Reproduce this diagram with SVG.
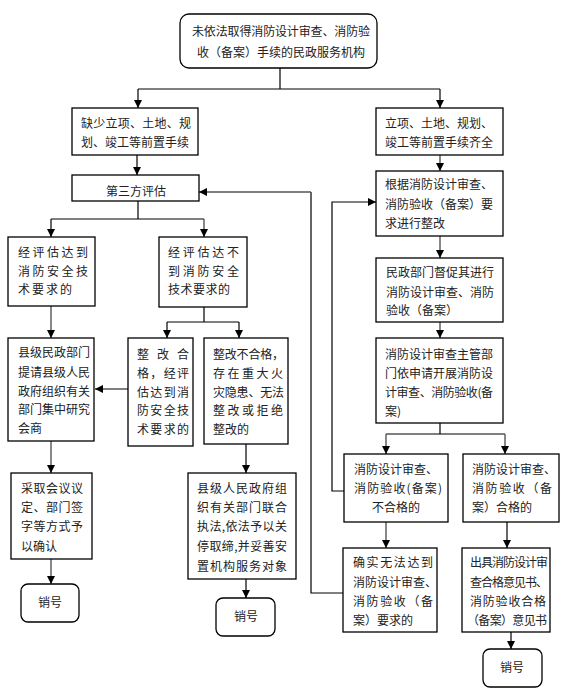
<svg xmlns="http://www.w3.org/2000/svg" width="564" height="692" viewBox="0 0 564 692">
<style>
.b{fill:#fff;stroke:#000;stroke-width:1.3}
.t{font-family:"Noto Sans CJK SC","Noto Sans CJK TC",sans-serif;font-size:12px;fill:#222}
.m{text-anchor:middle}
.c{fill:none;stroke:#000;stroke-width:1.2}
.g{fill:none;stroke:#555;stroke-width:1.4}
</style>
<defs>
<marker id="ah" markerUnits="userSpaceOnUse" markerWidth="9" markerHeight="9" refX="8" refY="4" orient="auto">
<path d="M0,0 L8,4 L0,8 z" fill="#000"/>
</marker>
</defs>
<rect width="564" height="692" fill="#fff"/>
<g id="connectors">
<path class="c" d="M280,68 V89 M138,89 H440"/>
<path class="c" d="M138,89 V108" marker-end="url(#ah)"/>
<path class="c" d="M440,89 V108" marker-end="url(#ah)"/>
<path class="c" d="M137,155 V175" marker-end="url(#ah)"/>
<path class="g" d="M440,155 V171" marker-end="url(#ah)"/>
<path class="c" d="M138,201 V219 M51,219 H204"/>
<path class="c" d="M51,219 V237" marker-end="url(#ah)"/>
<path class="g" d="M204,219 V237" marker-end="url(#ah)"/>
<path class="g" d="M51,306 V338" marker-end="url(#ah)"/>
<path class="c" d="M204,307 V322 M167,322 H239"/>
<path class="c" d="M167,322 V338" marker-end="url(#ah)"/>
<path class="c" d="M239,322 V338" marker-end="url(#ah)"/>
<path class="c" d="M128,389 H95" marker-end="url(#ah)"/>
<path class="g" d="M51,441 V473" marker-end="url(#ah)"/>
<path class="g" d="M51,559 V584" marker-end="url(#ah)"/>
<path class="c" d="M246,444 V473" marker-end="url(#ah)"/>
<path class="c" d="M246,579 V598" marker-end="url(#ah)"/>
<path class="g" d="M440,236 V258" marker-end="url(#ah)"/>
<path class="g" d="M440,322 V338" marker-end="url(#ah)"/>
<path class="c" d="M440,423 V434 M386,434 H505"/>
<path class="g" d="M386,434 V454" marker-end="url(#ah)"/>
<path class="g" d="M505,434 V454" marker-end="url(#ah)"/>
<path class="g" d="M386,522 V548" marker-end="url(#ah)"/>
<path class="c" d="M507,522 V548" marker-end="url(#ah)"/>
<path class="c" d="M511,632 V649" marker-end="url(#ah)"/>
<path class="c" d="M344,491 H332 V202 H376" marker-end="url(#ah)"/>
<path class="c" d="M343,593 H311 V192" />
<path class="g" d="M311,192 H199" marker-end="url(#ah)"/>
</g>
<g id="n_top">
<rect class="b" x="180" y="14" width="197" height="54" rx="9"/>
<text class="t m" x="281" y="36" textLength="178">未依法取得消防设计审查、消防验</text>
<text class="t m" x="281" y="57" textLength="168">收（备案）手续的民政服务机构</text>
</g>
<g id="n_lack">
<rect class="b" x="72" y="108" width="126" height="47"/>
<text class="t" x="81" y="128" textLength="110">缺少立项、土地、规</text>
<text class="t" x="81" y="147" textLength="108">划、竣工等前置手续</text>
</g>
<g id="n_third">
<rect class="b" x="72" y="175" width="127" height="26"/>
<text class="t m" x="136" y="196">第三方评估</text>
</g>
<g id="n_full">
<rect class="b" x="376" y="108" width="127" height="47"/>
<text class="t" x="385" y="128">立项、土地、规划、</text>
<text class="t" x="385" y="147">竣工等前置手续齐全</text>
</g>
<g id="n_rectify">
<rect class="b" x="376" y="171" width="127" height="65"/>
<text class="t" x="385" y="189">根据消防设计审查、</text>
<text class="t" x="385" y="209">消防验收（备案）要</text>
<text class="t" x="385" y="228">求进行整改</text>
</g>
<g id="n_meet">
<rect class="b" x="8" y="237" width="87" height="69"/>
<text class="t" x="18" y="257" textLength="70">经评估达到</text>
<text class="t" x="18" y="276" textLength="70">消防安全技</text>
<text class="t" x="18" y="294" textLength="54">术要求的</text>
</g>
<g id="n_notmeet">
<rect class="b" x="159" y="237" width="88" height="70"/>
<text class="t" x="168" y="257" textLength="71">经评估达不</text>
<text class="t" x="168" y="276" textLength="71">到消防安全</text>
<text class="t" x="168" y="294" textLength="62">技术要求的</text>
</g>
<g id="n_county_civil">
<rect class="b" x="8" y="338" width="86" height="103"/>
<text class="t" x="18" y="357">县级民政部门</text>
<text class="t" x="18" y="377">提请县级人民</text>
<text class="t" x="18" y="396">政府组织有关</text>
<text class="t" x="18" y="414">部门集中研究</text>
<text class="t" x="18" y="433">会商</text>
</g>
<g id="n_pass">
<rect class="b" x="128" y="338" width="65" height="108"/>
<text class="t" x="137" y="359" textLength="52">整改合</text>
<text class="t" x="137" y="378" textLength="52">格，经评</text>
<text class="t" x="137" y="397" textLength="52">估达到消</text>
<text class="t" x="137" y="415" textLength="52">防安全技</text>
<text class="t" x="137" y="434" textLength="52">术要求的</text>
</g>
<g id="n_fail">
<rect class="b" x="204" y="338" width="84" height="106"/>
<text class="t" x="213" y="359" textLength="71">整改不合格，</text>
<text class="t" x="213" y="378" textLength="70">存在重大火</text>
<text class="t" x="213" y="397" textLength="71">灾隐患、无法</text>
<text class="t" x="213" y="415" textLength="70">整改或拒绝</text>
<text class="t" x="213" y="434">整改的</text>
</g>
<g id="n_confirm">
<rect class="b" x="11" y="473" width="81" height="86"/>
<text class="t" x="21" y="493" textLength="62">采取会议议</text>
<text class="t" x="21" y="512" textLength="62">定、部门签</text>
<text class="t" x="21" y="531" textLength="62">字等方式予</text>
<text class="t" x="21" y="551">以确认</text>
</g>
<g id="n_cancel1">
<rect class="b" x="21" y="584" width="58" height="38" rx="7"/>
<text class="t m" x="50" y="607">销号</text>
</g>
<g id="n_county_gov">
<rect class="b" x="188" y="473" width="108" height="106"/>
<text class="t" x="197" y="493" textLength="90">县级人民政府组</text>
<text class="t" x="197" y="512" textLength="90">织有关部门联合</text>
<text class="t" x="197" y="531" textLength="90">执法,依法予以关</text>
<text class="t" x="197" y="551" textLength="90">停取缔,并妥善安</text>
<text class="t" x="197" y="571" textLength="90">置机构服务对象</text>
</g>
<g id="n_cancel2">
<rect class="b" x="216" y="598" width="59" height="38" rx="7"/>
<text class="t m" x="246" y="621">销号</text>
</g>
<g id="n_urge">
<rect class="b" x="376" y="258" width="127" height="64"/>
<text class="t" x="386" y="277">民政部门督促其进行</text>
<text class="t" x="386" y="297">消防设计审查、消防</text>
<text class="t" x="386" y="315">验收（备案）</text>
</g>
<g id="n_review">
<rect class="b" x="376" y="338" width="127" height="85"/>
<text class="t" x="385" y="359">消防设计审查主管部</text>
<text class="t" x="385" y="378">门依申请开展消防设</text>
<text class="t" x="385" y="397" textLength="108">计审查、消防验收(备</text>
<text class="t" x="385" y="416">案)</text>
</g>
<g id="n_unqualified">
<rect class="b" x="344" y="454" width="104" height="68"/>
<text class="t" x="354" y="474">消防设计审查、</text>
<text class="t" x="354" y="493" textLength="88">消防验收(备案)</text>
<text class="t m" x="396" y="512">不合格的</text>
</g>
<g id="n_qualified">
<rect class="b" x="463" y="454" width="96" height="68"/>
<text class="t" x="472" y="474">消防设计审查、</text>
<text class="t" x="472" y="493" textLength="80">消防验收（备</text>
<text class="t" x="472" y="512">案）合格的</text>
</g>
<g id="n_cannot">
<rect class="b" x="343" y="548" width="94" height="84"/>
<text class="t" x="353" y="567" textLength="80">确实无法达到</text>
<text class="t" x="353" y="587">消防设计审查、</text>
<text class="t" x="353" y="606" textLength="80">消防验收（备</text>
<text class="t" x="353" y="625">案）要求的</text>
</g>
<g id="n_issue">
<rect class="b" x="462" y="548" width="88" height="84"/>
<text class="t" x="470" y="567" textLength="78">出具消防设计审</text>
<text class="t" x="470" y="587" textLength="78">查合格意见书、</text>
<text class="t" x="470" y="606" textLength="76">消防验收合格</text>
<text class="t" x="467" y="625" textLength="80">（备案）意见书</text>
</g>
<g id="n_cancel3">
<rect class="b" x="483" y="649" width="59" height="38" rx="7"/>
<text class="t m" x="512" y="672">销号</text>
</g>
</svg>
